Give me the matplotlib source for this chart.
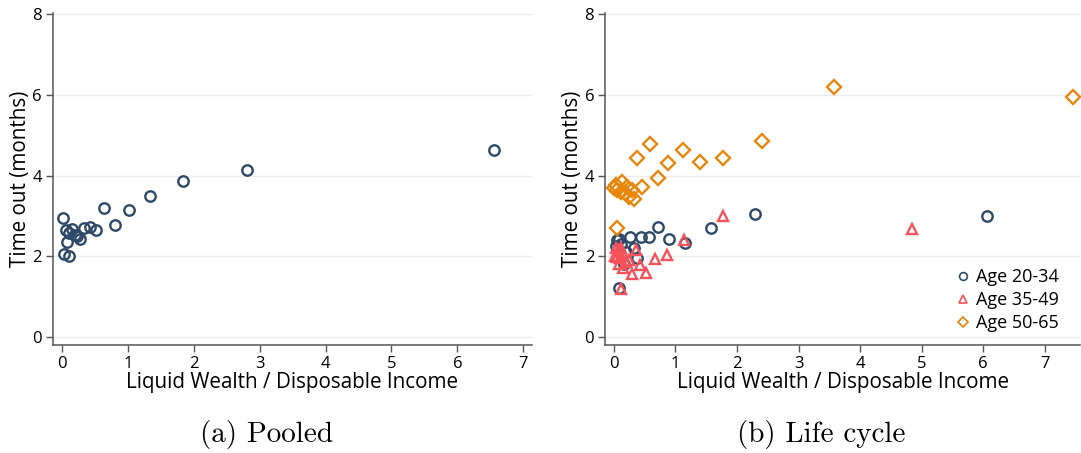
import matplotlib
matplotlib.use("Agg")
import matplotlib.pyplot as plt

# pooled sample
pooled_x = [0.01, 0.64, 1.02, 0.056, 0.15, 0.11, 0.20, 0.23, 0.27, 0.34,
            0.42, 0.52, 0.81, 0.08, 0.03, 0.10, 1.34, 1.84, 2.81, 6.55]
pooled_y = [2.95, 3.21, 3.16, 2.65, 2.69, 2.59, 2.54, 2.51, 2.43, 2.71,
            2.73, 2.66, 2.77, 2.36, 2.07, 2.02, 3.49, 3.87, 4.15, 4.65]

# life cycle groups
young_x = [0.06, 0.26, 0.44, 0.57, 0.90, 0.71, 0.03, 0.33, 0.38, 0.16,
           0.09, 1.15, 1.58, 2.29, 6.06, 0.12, 0.20, 0.08]
young_y = [2.40, 2.47, 2.47, 2.48, 2.42, 2.73, 2.26, 2.20, 1.95, 1.82,
           1.22, 2.33, 2.71, 3.04, 3.00, 2.30, 2.10, 2.43]

mid_x = [0.03, 0.07, 0.14, 0.11, 0.06, 0.10, 0.02, 0.25, 0.09, 0.15,
         0.43, 0.29, 0.53, 0.67, 0.86, 0.36, 1.14, 0.11, 1.78, 4.85, 0.20]
mid_y = [2.20, 2.15, 2.11, 2.22, 1.99, 1.95, 2.00, 1.90, 1.82, 1.72,
         1.78, 1.56, 1.59, 1.93, 2.03, 2.15, 2.40, 1.20, 3.00, 2.67, 1.85]

old_x = [0.03, 0.14, 0.22, 0.11, 0.19, 0.30, 0.33, 0.46, 0.06, 0.06, 0.72,
         0.38, 0.58, 0.88, 1.12, 1.40, 1.78, 2.40, 3.57, 7.46, 0.00, 0.25]
old_y = [3.76, 3.85, 3.72, 3.60, 3.56, 3.64, 3.42, 3.71, 3.64, 2.71, 3.94,
         4.43, 4.79, 4.31, 4.65, 4.35, 4.45, 4.85, 6.19, 5.94, 3.70, 3.47]

navy = "#2e4a68"
red = "#f5525c"
orange = "#e8860c"
axis_grey = "#555555"

plt.rcParams['font.family'] = ['Open Sans', 'DejaVu Sans']


def style_axes(ax, xmax):
    ax.set_xlim(-0.137, xmax)
    ax.set_ylim(-0.2, 8.03)
    ax.set_xticks(range(0, 8))
    ax.set_yticks([0, 2, 4, 6, 8])
    ax.yaxis.grid(True, color="#ececec", linewidth=1.0)
    ax.set_axisbelow(True)
    for side in ("top", "right"):
        ax.spines[side].set_visible(False)
    for side in ("left", "bottom"):
        ax.spines[side].set_color(axis_grey)
        ax.spines[side].set_linewidth(1.1)
    ax.tick_params(direction="out", length=5, width=1, color=axis_grey,
                   labelsize=12, pad=3)
    ax.set_xlabel("Liquid Wealth / Disposable Income", fontsize=14.9, labelpad=0)
    ax.set_ylabel("Time out (months)", fontsize=14.9, labelpad=1)


fig = plt.figure(figsize=(10.81, 4.53), dpi=100)
ax1 = fig.add_axes([0.049, 0.238, 0.443, 0.733])
ax2 = fig.add_axes([0.560, 0.238, 0.439, 0.733])

mk = dict(linestyle="none", markerfacecolor="none", markersize=7.5,
          markeredgewidth=1.7)

ax1.plot(pooled_x, pooled_y, marker="o", markeredgecolor=navy, **mk)
style_axes(ax1, 7.13)

ax2.plot(young_x, young_y, marker="o", markeredgecolor=navy, label="Age 20-34", **mk)
ax2.plot(mid_x, mid_y, marker="^", markeredgecolor=red, label="Age 35-49", **mk)
ax2.plot(old_x, old_y, marker="D", markeredgecolor=orange, label="Age 50-65",
         linestyle="none", markerfacecolor="none", markersize=6.8, markeredgewidth=1.7)
style_axes(ax2, 7.57)
leg = ax2.legend(loc="lower right", bbox_to_anchor=(0.975, 0.012), frameon=False,
                 fontsize=13, handletextpad=0.25, labelspacing=0.28, borderpad=0.0,
                 handlelength=1.0, markerscale=0.75)
for h in leg.legend_handles:
    h.set_markeredgewidth(1.2)

fig.text(0.247, 0.04, "(a) Pooled", fontsize=21, family="cmr10",
         ha="center", va="center")
fig.text(0.760, 0.04, "(b) Life cycle", fontsize=21, family="cmr10",
         ha="center", va="center")

fig.savefig("out.png", dpi=100)
